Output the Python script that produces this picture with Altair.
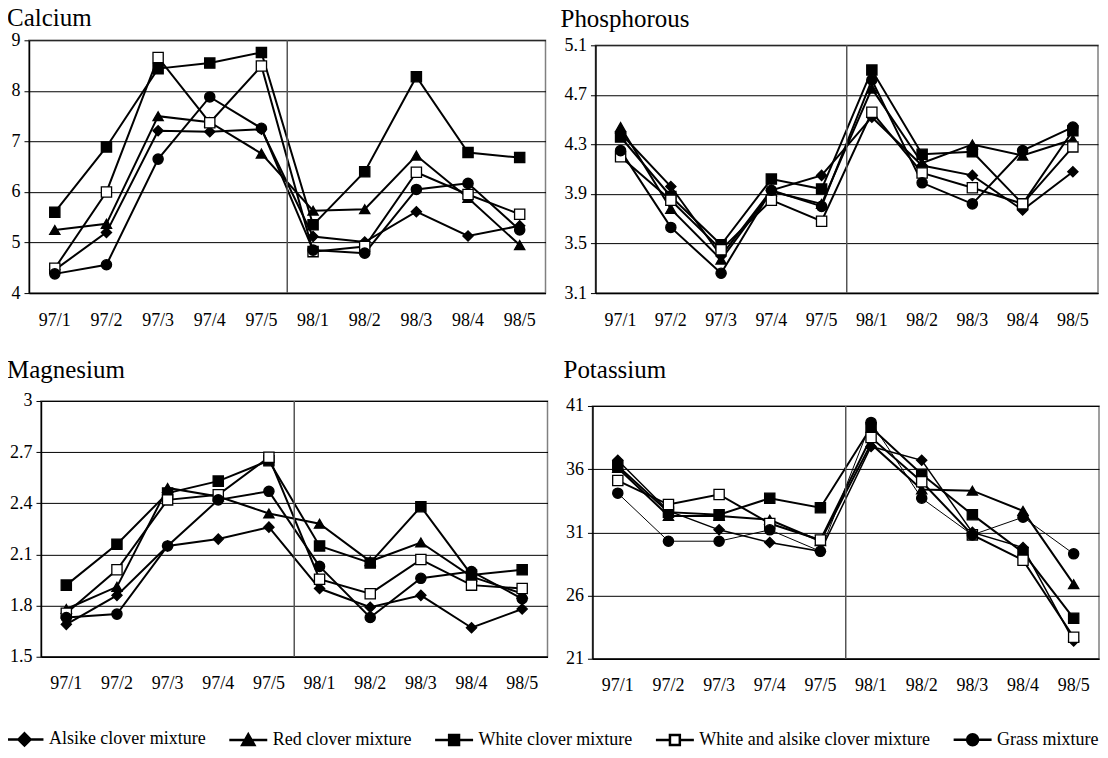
import altair as alt
import pandas as pd

cats = ["97/1", "97/2", "97/3", "97/4", "97/5", "98/1", "98/2", "98/3", "98/4", "98/5"]
series_names = ["Alsike clover mixture", "Red clover mixture", "White clover mixture",
                "White and alsike clover mixture", "Grass mixture"]

# Calcium
ca_alsike = [4.46, 5.20, 7.21, 7.19, 7.24, 5.12, 5.01, 5.61, 5.13, 5.33]
ca_red = [5.25, 5.37, 7.50, 7.38, 6.76, 5.63, 5.66, 6.72, 5.88, 4.95]
ca_white = [5.60, 6.89, 8.44, 8.55, 8.76, 5.35, 6.40, 8.28, 6.78, 6.68]
ca_walsike = [4.49, 6.00, 8.66, 7.37, 8.49, 4.82, 4.92, 6.39, 5.95, 5.56]
ca_grass = [4.38, 4.56, 6.65, 7.88, 7.26, 4.85, 4.79, 6.05, 6.17, 5.25]

# Phosphorous
p_alsike = [4.39, 3.96, 3.40, 3.93, 4.05, 4.52, 4.13, 4.05, 3.77, 4.08]
p_red = [4.44, 3.78, 3.37, 3.92, 3.82, 4.75, 4.15, 4.30, 4.21, 4.34]
p_white = [4.36, 3.88, 3.49, 4.02, 3.94, 4.90, 4.22, 4.24, 3.82, 4.41]
p_walsike = [4.20, 3.85, 3.45, 3.85, 3.68, 4.56, 4.07, 3.95, 3.82, 4.28]
p_grass = [4.25, 3.63, 3.26, 3.93, 3.80, 4.82, 3.99, 3.82, 4.25, 4.44]

# Magnesium
mg_alsike = [1.69, 1.86, 2.15, 2.19, 2.26, 1.90, 1.79, 1.86, 1.67, 1.78]
mg_red = [1.78, 1.91, 2.49, 2.44, 2.34, 2.28, 2.06, 2.17, 1.97, 1.87]
mg_white = [1.92, 2.16, 2.46, 2.53, 2.65, 2.15, 2.05, 2.38, 1.98, 2.01]
mg_walsike = [1.755, 2.01, 2.42, 2.45, 2.67, 1.955, 1.87, 2.07, 1.92, 1.90]
mg_grass = [1.73, 1.75, 2.15, 2.42, 2.47, 2.03, 1.73, 1.96, 2.00, 1.84]

# Potassium
k_alsike = [36.7, 32.7, 31.2, 30.2, 29.5, 37.8, 36.7, 31.0, 29.8, 22.4]
k_red = [36.1, 32.3, 32.3, 32.0, 30.3, 38.0, 34.4, 34.3, 32.7, 26.9]
k_white = [36.25, 32.6, 32.4, 33.7, 32.95, 39.3, 35.6, 32.4, 29.4, 24.2]
k_walsike = [35.1, 33.2, 34.0, 31.7, 30.4, 38.5, 35.0, 30.8, 28.8, 22.7]
k_grass = [34.1, 30.3, 30.3, 31.2, 29.5, 39.7, 33.7, 30.8, 32.2, 29.3]

ca_ticks = [4, 5, 6, 7, 8, 9]
p_ticks = [3.1, 3.5, 3.9, 4.3, 4.7, 5.1]
mg_ticks = [1.5, 1.8, 2.1, 2.4, 2.7, 3.0]
k_ticks = [21, 26, 31, 36, 41]

divider_cat = ["98/1"]

shapes = ["diamond", "triangle-up", "square", "square", "circle"]
fills = ["black", "black", "black", "white", "black"]
legend_paths = [
    "M-1,0H1M0,-0.32L0.32,0L0,0.32L-0.32,0Z",
    "M-1,0H1M0,-0.3L0.32,0.26H-0.32Z",
    "M-1,0H1M-0.26,-0.26H0.26V0.26H-0.26Z",
    "M-1,0H-0.26M0.26,0H1M-0.26,-0.26H0.26V0.26H-0.26Z",
    "M-1,0H1M-0.29,0A0.29,0.29 0 1,0 0.29,0A0.29,0.29 0 1,0 -0.29,0Z",
]

FONT = "Liberation Serif"


def make_df(vals_list):
    rows = []
    for name, vals in zip(series_names, vals_list):
        for c, v in zip(cats, vals):
            rows.append({"cat": c, "series": name, "value": v})
    return pd.DataFrame(rows)


def spacer():
    return alt.Chart(pd.DataFrame({"v": [0]})).transform_filter("false").mark_point().encode(
        x=alt.value(0), y=alt.value(0)
    ).properties(width=1, height=1, view=alt.ViewBackground(stroke="transparent"))


def panel(title, vals_list, ticks, w, h, dx, offset, widths):
    df = make_df(vals_list)
    xscale = alt.Scale(type="band", domain=cats, paddingInner=0, paddingOuter=0)
    yscale = alt.Scale(domain=[ticks[0], ticks[-1]], nice=False, zero=False)
    xaxis = alt.Axis(title=None, ticks=False, labelAngle=0, labelPadding=18,
                     grid=False, bandPosition=0.5)
    x = alt.X("cat:N", sort=cats, scale=xscale, bandPosition=0.5, axis=xaxis)
    y = alt.Y("value:Q", scale=yscale,
              axis=alt.Axis(title=None, values=ticks, format="~g", grid=True,
                            tickSize=5, labelPadding=4))
    base = alt.Chart(df)
    rule = alt.Chart(pd.DataFrame({"cat": divider_cat})).mark_rule(
        color="#555555", strokeWidth=1.5).encode(
        x=alt.X("cat:N", sort=cats, scale=xscale, bandPosition=0, axis=xaxis))
    layers = []
    for name, sw in zip(series_names, widths):
        ln = base.transform_filter(alt.datum.series == name).mark_line(
            color="black", strokeWidth=sw).encode(x=x, y=y)
        layers.append(ln)
    layers.append(rule)
    for name, shp, fl in zip(series_names, shapes, fills):
        pts = base.transform_filter(alt.datum.series == name).mark_point(
            shape=shp, filled=True, fill=fl, stroke="black", strokeWidth=1.3,
            size=105, opacity=1).encode(x=x, y=y)
        layers.append(pts)
    layered = alt.layer(*layers).properties(
        width=w, height=h,
        title=alt.TitleParams(text=title, anchor="start", frame="group", dx=dx,
                              offset=offset, font=FONT, fontSize=25,
                              fontWeight="normal", color="black"))
    return alt.vconcat(spacer(), layered, spacing=0)


ca = panel("Calcium", [ca_alsike, ca_red, ca_white, ca_walsike, ca_grass],
           ca_ticks, 517, 253, -22, 0, [2, 2, 2, 2, 2])
ph = panel("Phosphorous", [p_alsike, p_red, p_white, p_walsike, p_grass],
           p_ticks, 503, 248, -35, 4.5, [2, 2, 2, 2, 2])
mg = panel("Magnesium", [mg_alsike, mg_red, mg_white, mg_walsike, mg_grass],
           mg_ticks, 507, 256, -34, 9.5, [2, 2, 2, 2, 2])
kk = panel("Potassium", [k_alsike, k_red, k_white, k_walsike, k_grass],
           k_ticks, 507, 253, -29, 14.5, [1.5, 2, 2, 2, 1])

row1 = alt.hconcat(alt.hconcat(spacer(), ca, spacing=0), ph, spacing=13)
row2 = alt.hconcat(alt.hconcat(spacer(), mg, spacing=0), kk, spacing=14)
grid = alt.vconcat(row1, row2, spacing=23)

leg = alt.Legend(title=None, orient="none", legendX=0, legendY=0, direction="horizontal",
                 columns=5, labelFont=FONT, labelFontSize=18, labelColor="black",
                 labelOffset=4, labelLimit=600, columnPadding=18, symbolSize=1444,
                 symbolStrokeWidth=2.5, symbolStrokeColor="black", padding=0)

legend_chart = alt.Chart(pd.DataFrame({"series": series_names})).transform_filter(
    "false").mark_point(opacity=1).encode(
    shape=alt.Shape("series:N", scale=alt.Scale(domain=series_names, range=legend_paths),
                    legend=leg),
    fill=alt.Fill("series:N", scale=alt.Scale(domain=series_names, range=fills),
                  legend=leg),
    stroke=alt.Stroke("series:N", scale=alt.Scale(domain=series_names,
                                                  range=["black"] * 5),
                      legend=leg),
).properties(width=1, height=1, view=alt.ViewBackground(stroke="transparent"))

chart = alt.vconcat(grid, legend_chart, spacing=22).resolve_scale(
    shape="independent", fill="independent", stroke="independent",
    x="independent", y="independent"
).properties(
    padding={"left": -5, "top": -6, "right": 0, "bottom": 0}
).configure_axis(
    labelFont=FONT, labelFontSize=18, labelColor="black",
    domainColor="black", domainWidth=1.5, tickColor="black", tickWidth=1,
    gridColor="black", gridWidth=1,
).configure_view(stroke="#808080", strokeWidth=1.5)

chart.save("out.html", embed_options={"renderer": "svg", "actions": False})
